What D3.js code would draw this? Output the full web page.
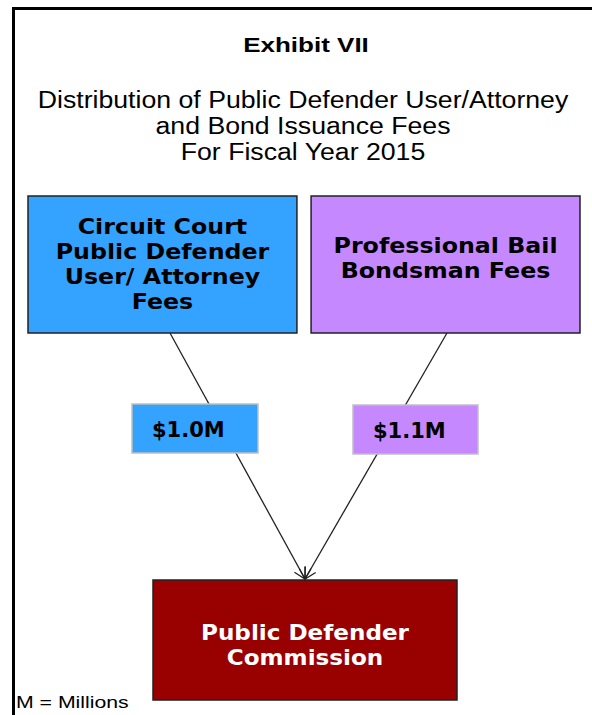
<!DOCTYPE html>
<html>
<head>
<meta charset="utf-8">
<script src="https://cdn.jsdelivr.net/npm/d3@7"></script>
<style>
  body { margin: 0; background: #fff; }
  svg { display: block; }
</style>
</head>
<body>
<svg></svg>
<script>
const width = 592;
const height = 715;

// data
const titleLines = ['Distribution of Public Defender User/Attorney', 'and Bond Issuance Fees', 'For Fiscal Year 2015'];
const sources = ['Circuit Court|Public Defender|User/ Attorney|Fees', 'Professional Bail|Bondsman Fees'];
const amounts = [1.0, 1.1];
const sourceColors = ['#33a3ff', '#c688ff'];
const target = 'Public Defender|Commission';

const arial = 'Arial, "Liberation Sans", sans-serif';
const heavy = '"DejaVu Sans", sans-serif';

const svg = d3.select('svg').attr('width', width).attr('height', height);

// the exhibit is a little wider than its fonts, so text gets stretched sideways
function label(parent, txt, x, y, opts) {
  return parent.append('text')
    .attr('transform', 'translate(' + x + ',' + y + ') scale(' + (opts.sx || 1) + ',1)')
    .attr('text-anchor', opts.anchor || 'middle')
    .style('font-family', opts.family || arial)
    .style('font-weight', opts.bold ? 'bold' : 'normal')
    .style('font-size', opts.size + 'px')
    .style('fill', opts.fill || '#000')
    .text(txt);
}

svg.append('defs').append('marker')
  .attr('id', 'arrow')
  .attr('viewBox', '-12 -8 14 16')
  .attr('refX', 0).attr('refY', 0)
  .attr('markerWidth', 14).attr('markerHeight', 16)
  .attr('markerUnits', 'userSpaceOnUse')
  .attr('orient', 'auto')
  .append('path')
  .attr('d', 'M-11,-6L0,0L-11,6M0,0L-12,0')
  .style('fill', 'none').style('stroke', '#222').style('stroke-width', 1.3);

// frame (only top and left show)
svg.append('path').attr('d', 'M13.5,' + height + 'V8.5H' + width)
  .style('fill', 'none').style('stroke', '#000').style('stroke-width', 3);

label(svg, 'Exhibit VII', 306, 52, {size: 20, bold: true, sx: 1.3});

titleLines.forEach((t, i) => label(svg, t, 303, 108 + i * 26, {size: 23, sx: 1.16}));

// layout scales
const x = d3.scaleBand().domain(d3.range(sources.length)).range([28, 580]).paddingInner(0.05);
const boxTop = 196, boxBottom = 333;
const valTop = 404, valH = 49;
const targetX = 305, targetTop = 580, targetW = 304, targetH = 120;

const fmt = v => '$' + d3.format('.1f')(v) + 'M';

// line start points under each source box, line hits target at targetX
const starts = [[170, boxBottom], [447, boxBottom]];
const end = [targetX, targetTop - 1];

sources.forEach((s, i) => {
  const line = d3.line();
  svg.append('path')
    .attr('d', line([starts[i], end]))
    .attr('marker-end', 'url(#arrow)')
    .style('stroke', '#222').style('stroke-width', 1.3).style('fill', 'none');
});

const fromG = svg.selectAll('.src').data(sources).enter().append('g').attr('class', 'src');
fromG.append('rect')
  .attr('x', (d, i) => x(i)).attr('y', boxTop)
  .attr('width', x.bandwidth()).attr('height', boxBottom - boxTop)
  .style('fill', (d, i) => sourceColors[i]).style('stroke', '#222').style('stroke-width', 1.5);
fromG.each(function(d, i) {
  const lines = d.split('|');
  const cy = (boxTop + boxBottom) / 2 - (lines.length > 2 ? 1 : 7);
  lines.forEach((l, j) => {
    label(d3.select(this), l, x(i) + x.bandwidth() / 2, cy + (j - (lines.length - 1) / 2) * 25 + 8,
      {size: 21, bold: true, family: heavy, sx: 1.13});
  });
});

// amount boxes, sitting on the lines
const valX = [132, 353], valW = [126, 125];
const valG = svg.selectAll('.val').data(amounts).enter().append('g').attr('class', 'val');
valG.append('rect')
  .attr('x', (d, i) => valX[i]).attr('y', (d, i) => valTop + i)
  .attr('width', (d, i) => valW[i]).attr('height', valH)
  .style('fill', (d, i) => sourceColors[i]).style('stroke', '#c0c0c0').style('stroke-width', 1.5);
valG.each(function(d, i) {
  label(d3.select(this), fmt(d), valX[i] + 20, valTop + i + 33, {size: 21, bold: true, family: heavy, anchor: 'start'});
});

// target box
svg.append('rect')
  .attr('x', targetX - targetW / 2).attr('y', targetTop)
  .attr('width', targetW).attr('height', targetH)
  .style('fill', '#990000').style('stroke', '#222').style('stroke-width', 1.5);
target.split('|').forEach((t, i) => {
  label(svg, t, targetX, 640 + i * 24.5, {size: 21, bold: true, family: heavy, fill: '#fff', sx: 1.1});
});

label(svg, 'M = Millions', 16, 708, {size: 17, anchor: 'start', sx: 1.25});
</script>
</body>
</html>
